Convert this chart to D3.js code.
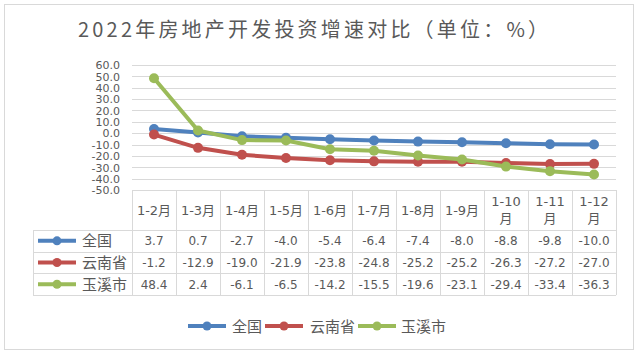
<!DOCTYPE html>
<html><head><meta charset="utf-8">
<script src="https://cdn.jsdelivr.net/npm/d3@7/dist/d3.min.js"></script>
<style>
html,body{margin:0;padding:0;background:#fff;}
svg{display:block;}
</style></head>
<body>
<svg id="chart" width="640" height="355"></svg>
<script>
const title = "2022年房地产开发投资增速对比（单位：%）";
const categories = ["1-2月","1-3月","1-4月","1-5月","1-6月","1-7月","1-8月","1-9月","1-10月","1-11月","1-12月"];
const seriesNames = ["全国","云南省","玉溪市"];
const nationalValues = [3.7, 0.7, -2.7, -4.0, -5.4, -6.4, -7.4, -8.0, -8.8, -9.8, -10.0];
const yunnanValues = [-1.2, -12.9, -19.0, -21.9, -23.8, -24.8, -25.2, -25.2, -26.3, -27.2, -27.0];
const yuxiValues = [48.4, 2.4, -6.1, -6.5, -14.2, -15.5, -19.6, -23.1, -29.4, -33.4, -36.3];
const yTicks = [60, 50, 40, 30, 20, 10, 0, -10, -20, -30, -40, -50];
const colors = ["#4F81BD", "#C0504D", "#9BBB59"];

const series = [
  {name: seriesNames[0], values: nationalValues, color: colors[0]},
  {name: seriesNames[1], values: yunnanValues, color: colors[1]},
  {name: seriesNames[2], values: yuxiValues, color: colors[2]}
];

const svg = d3.select("#chart");
const textColor = "#595959";
const gridColor = "#D9D9D9";
const numFont = "'DejaVu Sans', 'Noto Sans CJK SC', sans-serif";
const cjkFont = "'Noto Sans CJK SC', 'DejaVu Sans', sans-serif";

// outer border
svg.append("rect").attr("x", 4.5).attr("y", 4.5).attr("width", 629).attr("height", 345)
  .attr("fill", "#fff").attr("stroke", gridColor).attr("stroke-width", 1);

// title
svg.append("text").attr("x", 78).attr("y", 37)
  .attr("font-family", cjkFont).attr("font-size", 20).attr("fill", textColor)
  .attr("textLength", 470).attr("lengthAdjust", "spacing")
  .text(title);

const plotLeft = 132, plotRight = 616, plotTop = 65, plotBottom = 190;
const x = d3.scaleBand().domain(categories).range([plotLeft, plotRight]).padding(0);
const y = d3.scaleLinear().domain([-50, 60]).range([plotBottom, plotTop]);

// gridlines
svg.append("g").selectAll("line").data(yTicks).join("line")
  .attr("x1", plotLeft).attr("x2", plotRight)
  .attr("y1", d => Math.round(y(d)) + 0.5).attr("y2", d => Math.round(y(d)) + 0.5)
  .attr("stroke", gridColor).attr("stroke-width", 1);

// y axis
const yAxis = svg.append("g").attr("transform", `translate(${plotLeft - 12},0)`)
  .call(d3.axisLeft(y).tickValues(yTicks).tickFormat(d => d.toFixed(1)).tickSize(0).tickPadding(0));
yAxis.select(".domain").remove();
yAxis.selectAll("text").attr("font-family", numFont).attr("font-size", 11).attr("fill", textColor)
  .attr("dy", "0.34em");

// table geometry
const headerTop = plotBottom, headerBottom = 230;
const rowH = 21.7;
const tableLeft = 33;
const tableBottom = headerBottom + rowH * 3;

const tg = svg.append("g");
for (let i = 0; i <= 3; i++) {
  const yy = Math.round(headerBottom + rowH * i) + 0.5;
  tg.append("line").attr("x1", tableLeft).attr("x2", plotRight).attr("y1", yy).attr("y2", yy)
    .attr("stroke", gridColor);
}
const bounds = categories.map(c => x(c)).concat([plotRight]);
tg.selectAll("line.v").data(bounds).join("line").attr("class", "v")
  .attr("x1", d => Math.round(d) + 0.5).attr("x2", d => Math.round(d) + 0.5)
  .attr("y1", headerTop).attr("y2", tableBottom)
  .attr("stroke", gridColor);
tg.append("line").attr("x1", tableLeft + 0.5).attr("x2", tableLeft + 0.5)
  .attr("y1", headerBottom).attr("y2", tableBottom).attr("stroke", gridColor);

// header labels
categories.forEach(c => {
  const cx = x(c) + x.bandwidth() / 2;
  const t = tg.append("text").attr("text-anchor", "middle").attr("font-family", numFont)
    .attr("font-size", 13).attr("fill", textColor);
  if (c.length > 4) {
    t.append("tspan").attr("x", cx).attr("y", 206).text(c.slice(0, -1));
    t.append("tspan").attr("x", cx).attr("y", 223).text(c.slice(-1));
  } else {
    t.attr("x", cx).attr("y", 215).text(c);
  }
});

// rows
series.forEach((s, i) => {
  const cy = headerBottom + rowH * i + rowH / 2;
  tg.append("line").attr("x1", 38).attr("x2", 76).attr("y1", cy).attr("y2", cy)
    .attr("stroke", s.color).attr("stroke-width", 4);
  tg.append("circle").attr("cx", 57).attr("cy", cy).attr("r", 4.5).attr("fill", s.color);
  tg.append("text").attr("x", 82).attr("y", cy + 5.5).attr("font-family", cjkFont)
    .attr("font-size", 15).attr("fill", textColor).text(s.name);
  s.values.forEach((v, j) => {
    tg.append("text").attr("x", x(categories[j]) + x.bandwidth() / 2).attr("y", cy + 4.5)
      .attr("text-anchor", "middle").attr("font-family", numFont).attr("font-size", 12)
      .attr("fill", textColor).text(v.toFixed(1));
  });
});

// lines
const line = d3.line().x((d, j) => x(categories[j]) + x.bandwidth() / 2).y(d => y(d));
series.forEach(s => {
  const g = svg.append("g");
  g.append("path").attr("d", line(s.values)).attr("fill", "none")
    .attr("stroke", s.color).attr("stroke-width", 4).attr("stroke-linejoin", "round");
  g.selectAll("circle").data(s.values).join("circle")
    .attr("cx", (d, j) => x(categories[j]) + x.bandwidth() / 2).attr("cy", d => y(d))
    .attr("r", 5).attr("fill", s.color);
});

// bottom legend
const legendY = 326;
const legendItems = [{lx: 188, tx: 232}, {lx: 265, tx: 310}, {lx: 358, tx: 401}];
series.forEach((s, i) => {
  const it = legendItems[i];
  svg.append("line").attr("x1", it.lx).attr("x2", it.lx + 38).attr("y1", legendY).attr("y2", legendY)
    .attr("stroke", s.color).attr("stroke-width", 4);
  svg.append("circle").attr("cx", it.lx + 19).attr("cy", legendY).attr("r", 4.5).attr("fill", s.color);
  svg.append("text").attr("x", it.tx).attr("y", legendY + 5.5).attr("font-family", cjkFont)
    .attr("font-size", 15).attr("fill", textColor).text(s.name);
});
</script>
</body></html>
